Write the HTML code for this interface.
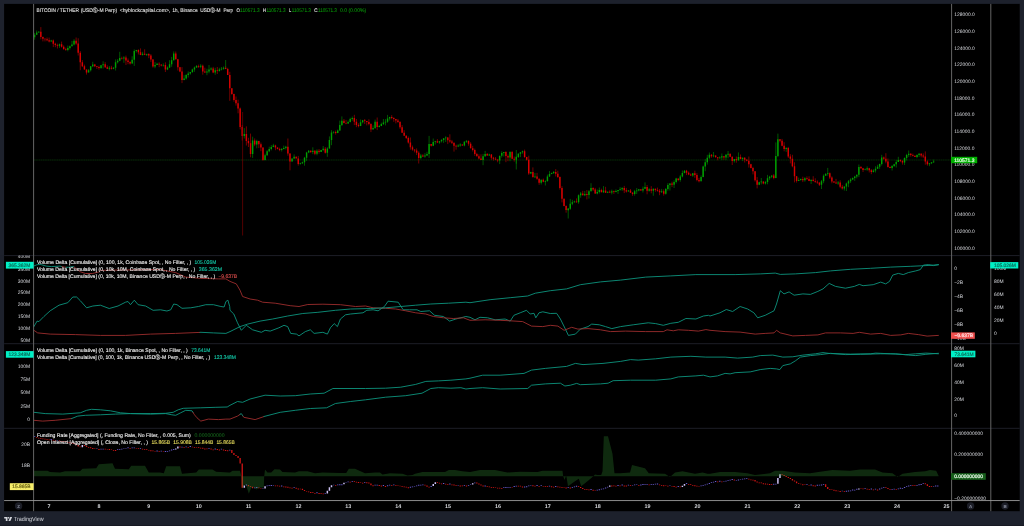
<!DOCTYPE html>
<html lang="en"><head><meta charset="utf-8"><title>BTCUSDT chart</title>
<style>html,body{margin:0;padding:0;background:#1e222d;overflow:hidden}svg{display:block;will-change:transform;opacity:.999}</style></head>
<body>
<svg width="1024" height="526" viewBox="0 0 1024 526" font-family="Liberation Sans, sans-serif" text-rendering="geometricPrecision">
<rect width="1024" height="526" fill="#1e222d"/>
<rect x="0" y="525.2" width="1024" height="0.8" fill="#171a22"/>
<rect x="4.1" y="3.9" width="1015.6" height="507.3" fill="#000"/>
<defs>
<clipPath id="cp1"><rect x="33.6" y="3.9" width="918.0" height="251.7"/></clipPath>
<clipPath id="cl2"><rect x="4.1" y="255.6" width="29.5" height="88.1"/></clipPath>
</defs>
<rect x="4.1" y="255.1" width="1015.6" height="1" fill="#1e2029"/>
<rect x="4.1" y="343.2" width="1015.6" height="1" fill="#1e2029"/>
<rect x="4.1" y="427.8" width="1015.6" height="1" fill="#1e2029"/>
<text x="954.2" y="16.3" font-size="4.95" fill="#dcdee3" text-anchor="start" font-weight="normal" >128000.0</text>
<text x="954.2" y="33.0" font-size="4.95" fill="#dcdee3" text-anchor="start" font-weight="normal" >126000.0</text>
<text x="954.2" y="49.6" font-size="4.95" fill="#dcdee3" text-anchor="start" font-weight="normal" >124000.0</text>
<text x="954.2" y="66.3" font-size="4.95" fill="#dcdee3" text-anchor="start" font-weight="normal" >122000.0</text>
<text x="954.2" y="82.9" font-size="4.95" fill="#dcdee3" text-anchor="start" font-weight="normal" >120000.0</text>
<text x="954.2" y="99.6" font-size="4.95" fill="#dcdee3" text-anchor="start" font-weight="normal" >118000.0</text>
<text x="954.2" y="116.3" font-size="4.95" fill="#dcdee3" text-anchor="start" font-weight="normal" >116000.0</text>
<text x="954.2" y="132.9" font-size="4.95" fill="#dcdee3" text-anchor="start" font-weight="normal" >114000.0</text>
<text x="954.2" y="149.6" font-size="4.95" fill="#dcdee3" text-anchor="start" font-weight="normal" >112000.0</text>
<text x="954.2" y="166.2" font-size="4.95" fill="#dcdee3" text-anchor="start" font-weight="normal" >110000.0</text>
<text x="954.2" y="182.9" font-size="4.95" fill="#dcdee3" text-anchor="start" font-weight="normal" >108000.0</text>
<text x="954.2" y="199.6" font-size="4.95" fill="#dcdee3" text-anchor="start" font-weight="normal" >106000.0</text>
<text x="954.2" y="216.2" font-size="4.95" fill="#dcdee3" text-anchor="start" font-weight="normal" >104000.0</text>
<text x="954.2" y="232.9" font-size="4.95" fill="#dcdee3" text-anchor="start" font-weight="normal" >102000.0</text>
<text x="954.2" y="249.5" font-size="4.95" fill="#dcdee3" text-anchor="start" font-weight="normal" >100000.0</text>
<text x="954.2" y="269.6" font-size="4.95" fill="#dcdee3" text-anchor="start" font-weight="normal" >0</text>
<text x="954.2" y="283.7" font-size="4.95" fill="#dcdee3" text-anchor="start" font-weight="normal" >−2B</text>
<text x="954.2" y="297.7" font-size="4.95" fill="#dcdee3" text-anchor="start" font-weight="normal" >−4B</text>
<text x="954.2" y="311.8" font-size="4.95" fill="#dcdee3" text-anchor="start" font-weight="normal" >−6B</text>
<text x="954.2" y="325.8" font-size="4.95" fill="#dcdee3" text-anchor="start" font-weight="normal" >−8B</text>
<text x="954.2" y="339.9" font-size="4.95" fill="#dcdee3" text-anchor="start" font-weight="normal" >−10B</text>
<text x="954.2" y="350.1" font-size="4.95" fill="#dcdee3" text-anchor="start" font-weight="normal" >80M</text>
<text x="954.2" y="367.0" font-size="4.95" fill="#dcdee3" text-anchor="start" font-weight="normal" >60M</text>
<text x="954.2" y="383.9" font-size="4.95" fill="#dcdee3" text-anchor="start" font-weight="normal" >40M</text>
<text x="954.2" y="400.5" font-size="4.95" fill="#dcdee3" text-anchor="start" font-weight="normal" >20M</text>
<text x="954.2" y="417.3" font-size="4.95" fill="#dcdee3" text-anchor="start" font-weight="normal" >0</text>
<text x="954.2" y="434.6" font-size="4.95" fill="#dcdee3" text-anchor="start" font-weight="normal" >0.400000000</text>
<text x="954.2" y="456.3" font-size="4.95" fill="#dcdee3" text-anchor="start" font-weight="normal" >0.200000000</text>
<text x="954.2" y="500.0" font-size="4.95" fill="#dcdee3" text-anchor="start" font-weight="normal" >−0.200000000</text>
<text x="993.9" y="270.0" font-size="4.95" fill="#dcdee3" text-anchor="start" font-weight="normal" >100M</text>
<text x="993.9" y="282.9" font-size="4.95" fill="#dcdee3" text-anchor="start" font-weight="normal" >80M</text>
<text x="993.9" y="296.0" font-size="4.95" fill="#dcdee3" text-anchor="start" font-weight="normal" >60M</text>
<text x="993.9" y="308.8" font-size="4.95" fill="#dcdee3" text-anchor="start" font-weight="normal" >40M</text>
<text x="993.9" y="321.6" font-size="4.95" fill="#dcdee3" text-anchor="start" font-weight="normal" >20M</text>
<text x="993.9" y="334.6" font-size="4.95" fill="#dcdee3" text-anchor="start" font-weight="normal" >0</text>
<g clip-path="url(#cl2)">
<text x="30.1" y="258.3" font-size="4.95" fill="#dcdee3" text-anchor="end" font-weight="normal" >400M</text>
<text x="30.1" y="270.8" font-size="4.95" fill="#dcdee3" text-anchor="end" font-weight="normal" >350M</text>
<text x="30.1" y="282.6" font-size="4.95" fill="#dcdee3" text-anchor="end" font-weight="normal" >300M</text>
<text x="30.1" y="294.4" font-size="4.95" fill="#dcdee3" text-anchor="end" font-weight="normal" >250M</text>
<text x="30.1" y="306.2" font-size="4.95" fill="#dcdee3" text-anchor="end" font-weight="normal" >200M</text>
<text x="30.1" y="318.0" font-size="4.95" fill="#dcdee3" text-anchor="end" font-weight="normal" >150M</text>
<text x="30.1" y="329.8" font-size="4.95" fill="#dcdee3" text-anchor="end" font-weight="normal" >100M</text>
<text x="30.1" y="341.6" font-size="4.95" fill="#dcdee3" text-anchor="end" font-weight="normal" >50M</text>
</g>
<text x="30.1" y="355.0" font-size="4.95" fill="#dcdee3" text-anchor="end" font-weight="normal" >125M</text>
<text x="30.1" y="368.1" font-size="4.95" fill="#dcdee3" text-anchor="end" font-weight="normal" >100M</text>
<text x="30.1" y="381.4" font-size="4.95" fill="#dcdee3" text-anchor="end" font-weight="normal" >75M</text>
<text x="30.1" y="394.3" font-size="4.95" fill="#dcdee3" text-anchor="end" font-weight="normal" >50M</text>
<text x="30.1" y="407.9" font-size="4.95" fill="#dcdee3" text-anchor="end" font-weight="normal" >25M</text>
<text x="30.1" y="420.8" font-size="4.95" fill="#dcdee3" text-anchor="end" font-weight="normal" >0</text>
<text x="30.1" y="446.4" font-size="4.95" fill="#dcdee3" text-anchor="end" font-weight="normal" >20B</text>
<text x="30.1" y="466.9" font-size="4.95" fill="#dcdee3" text-anchor="end" font-weight="normal" >18B</text>
<g clip-path="url(#cp1)">
<line x1="33.6" y1="160" x2="951.6" y2="160" stroke="#0a360a" stroke-width="0.8" stroke-dasharray="1.5,0.3"/>
<path d="M40.83,27.1V39.3M42.91,36.5V41.4M44.98,38.3V41.4M47.06,37.5V41.2M49.13,37.6V42.4M53.29,39.5V47.1M55.36,42.7V47.2M57.44,43.7V48.5M61.59,41.6V47.6M63.67,45.4V49.4M65.74,47.7V50.8M76.13,37.5V44.8M78.20,38.3V55.5M80.28,51.1V70.2M82.35,60.1V67.1M84.43,64.6V69.6M86.51,69.4V74.6M94.81,63.9V67.1M96.89,66.0V69.0M98.96,65.7V69.6M105.19,62.2V68.0M107.27,65.3V69.1M111.42,65.8V69.6M121.80,56.7V59.5M125.96,55.6V65.0M128.03,58.5V64.2M130.11,61.2V64.6M138.41,49.3V54.5M140.49,48.4V55.2M144.64,49.3V55.1M148.79,53.2V58.2M150.87,54.1V61.9M152.95,59.1V67.7M159.17,62.3V67.2M161.25,64.5V66.4M165.40,62.3V72.0M175.78,51.5V59.5M177.86,58.9V70.5M179.94,66.9V72.2M182.01,67.1V83.1M198.62,64.6V67.9M202.78,64.6V74.7M204.85,67.7V72.9M213.16,66.9V73.2M217.31,67.0V74.0M225.61,66.3V69.1M227.69,67.8V75.0M229.77,71.8V100.8M231.84,88.2V94.8M233.92,93.7V101.7M236.00,96.5V105.6M238.07,99.7V113.3M240.15,107.5V129.4M242.22,125.1V140.5M246.38,126.4V145.5M248.45,137.8V147.0M250.53,133.6V157.3M254.68,138.4V146.2M258.83,140.7V148.1M260.91,142.5V151.2M262.99,147.4V160.8M275.44,144.7V150.2M277.52,147.3V149.4M279.60,147.7V151.2M287.90,138.5V155.7M289.98,153.3V170.3M296.21,156.5V158.4M298.28,155.9V165.6M310.74,150.4V153.0M314.89,150.1V155.2M319.05,149.0V153.7M325.27,147.0V153.6M335.66,130.5V134.6M343.96,119.0V123.4M346.04,119.9V124.3M354.34,114.8V125.1M356.42,119.0V127.2M358.50,123.3V127.3M364.72,119.0V124.0M366.80,121.0V125.4M368.88,119.3V125.3M370.95,123.2V132.1M377.18,117.5V130.1M391.72,115.1V119.3M393.79,117.3V121.8M395.87,118.9V123.4M397.94,118.9V122.8M400.02,121.1V128.8M402.10,125.1V132.7M404.17,130.2V135.7M406.25,135.3V139.0M408.33,136.5V143.6M410.40,137.5V149.7M412.48,145.5V150.7M414.55,149.5V152.4M416.63,148.4V155.1M418.71,151.3V163.5M422.86,154.2V157.0M431.16,144.1V146.6M437.39,139.1V143.1M447.77,137.2V144.1M449.85,134.3V142.8M451.93,139.9V144.0M454.00,142.6V151.6M456.08,144.6V149.7M462.31,144.4V145.7M468.54,140.7V145.7M470.61,142.2V148.4M472.69,145.8V151.5M474.77,148.6V155.8M476.84,152.8V156.4M478.92,154.3V159.4M480.99,154.3V160.0M487.22,153.0V155.8M491.38,154.0V159.7M493.45,156.8V160.6M495.53,157.1V160.1M497.60,159.5V162.3M505.91,151.2V162.2M507.99,154.5V161.2M512.14,150.8V159.1M514.21,156.5V161.6M524.60,149.6V157.8M526.67,156.8V160.6M528.75,155.7V174.9M532.90,167.4V177.2M537.05,172.9V179.7M539.13,178.5V184.8M543.28,178.5V182.3M555.74,169.1V176.5M557.82,170.7V177.9M559.89,176.4V189.6M561.97,186.2V202.4M564.04,198.5V206.3M566.12,205.3V212.7M576.50,198.4V202.7M582.73,190.8V195.4M586.88,190.0V199.4M593.11,187.3V191.0M595.19,187.9V193.9M601.42,188.7V192.3M605.57,186.8V192.9M609.72,190.3V193.1M613.87,190.5V193.9M624.25,185.9V193.1M626.33,187.9V192.6M630.48,189.0V192.8M632.56,192.0V195.8M640.86,189.1V190.9M647.09,185.0V194.3M651.25,186.2V193.3M655.40,188.6V191.7M657.47,187.6V191.7M659.55,189.1V195.2M663.70,189.4V195.6M672.01,181.6V187.1M678.24,178.6V181.2M686.54,169.9V175.1M688.62,171.5V175.2M690.69,173.4V175.8M694.85,170.7V177.8M696.92,173.1V181.3M699.00,177.9V182.4M711.46,154.1V157.7M715.61,155.3V157.5M717.69,157.2V160.3M723.91,156.0V159.9M730.14,153.6V157.1M732.22,156.5V165.0M736.37,156.5V162.7M740.52,154.5V159.3M744.68,157.2V162.5M746.75,159.0V161.3M748.83,156.5V167.6M750.91,163.8V168.4M752.98,166.8V174.4M755.06,171.2V181.6M757.13,177.1V188.4M763.36,181.3V184.3M773.74,174.1V179.3M779.97,139.1V142.4M782.05,138.9V146.3M784.13,142.2V151.3M788.28,146.9V158.0M790.35,154.2V163.4M792.43,154.8V167.3M794.51,162.3V182.4M796.58,176.0V182.6M802.81,176.7V182.1M806.96,176.4V180.0M809.04,176.3V181.2M813.19,176.2V181.5M815.27,178.3V182.8M817.35,180.4V183.9M819.42,182.5V186.0M829.80,172.4V179.0M831.88,176.3V183.3M833.96,181.1V183.0M836.03,178.9V183.7M840.18,180.3V188.2M842.26,184.9V189.6M860.95,166.0V168.8M863.02,167.9V172.0M869.25,167.8V172.5M871.33,169.0V174.2M883.79,156.5V159.8M885.86,153.2V163.3M887.94,158.5V167.6M890.01,166.3V168.2M900.40,159.3V162.1M902.47,160.1V164.6M910.78,153.2V156.7M912.85,153.6V156.4M914.93,155.5V157.0M921.16,153.2V157.4M923.23,153.4V158.1M925.31,151.4V164.7M927.39,160.3V165.7" stroke="#d80000" stroke-width="0.55" fill="none"/>
<path d="M40.83,31.8V36.9M42.91,36.9V38.7M44.98,38.7V39.3M47.06,39.3V40.2M49.13,40.2V41.4M53.29,40.4V43.7M55.36,43.7V45.0M57.44,45.0V45.8M61.59,44.3V46.7M63.67,46.7V49.3M65.74,49.3V50.1M76.13,40.8V43.4M78.20,43.4V52.7M80.28,52.7V62.3M82.35,62.3V66.3M84.43,66.3V69.5M86.51,69.5V72.4M94.81,64.6V66.2M96.89,66.2V67.0M98.96,67.0V67.9M105.19,64.3V67.2M107.27,67.2V68.8M111.42,67.8V68.7M121.80,57.9V58.6M125.96,57.5V60.4M128.03,60.4V62.0M130.11,62.0V63.5M138.41,50.0V52.2M140.49,52.2V55.0M144.64,53.7V54.8M148.79,53.9V55.6M150.87,55.6V59.5M152.95,59.5V66.4M159.17,63.8V64.6M161.25,64.6V65.6M165.40,65.0V69.6M175.78,53.5V59.2M177.86,59.2V67.3M179.94,67.3V71.4M182.01,71.4V79.9M198.62,66.1V66.8M202.78,65.8V71.6M204.85,71.6V72.4M213.16,68.5V72.4M217.31,70.3V71.0M225.61,67.8V68.9M227.69,68.9V74.9M229.77,74.9V88.3M231.84,88.3V94.0M233.92,94.0V100.1M236.00,100.1V103.3M238.07,103.3V108.4M240.15,108.4V126.9M242.22,126.9V136.1M246.38,134.1V141.1M248.45,141.1V143.3M250.53,143.3V154.0M254.68,140.5V144.5M258.83,140.9V144.3M260.91,144.3V147.4M262.99,147.4V160.0M275.44,145.5V147.5M277.52,147.5V149.1M279.60,149.1V150.0M287.90,146.8V153.6M289.98,153.6V161.4M296.21,156.7V158.4M298.28,158.4V164.1M310.74,150.8V152.1M314.89,150.7V153.7M319.05,150.7V151.9M325.27,148.7V152.7M335.66,131.9V133.1M343.96,120.7V122.9M346.04,122.9V123.5M354.34,117.9V121.7M356.42,121.7V124.9M358.50,124.9V126.0M364.72,120.3V121.0M366.80,121.0V122.1M368.88,122.1V123.9M370.95,123.9V129.4M377.18,121.8V126.9M391.72,117.0V118.1M393.79,118.1V119.0M395.87,119.0V120.6M397.94,120.6V122.1M400.02,122.1V127.2M402.10,127.2V132.7M404.17,132.7V135.7M406.25,135.7V138.1M408.33,138.1V142.6M410.40,142.6V147.3M412.48,147.3V149.6M414.55,149.6V150.4M416.63,150.4V152.7M418.71,152.7V158.1M422.86,155.5V156.4M431.16,144.1V145.7M437.39,141.3V142.5M447.77,137.5V140.2M449.85,140.2V141.4M451.93,141.4V142.7M454.00,142.7V145.8M456.08,145.8V146.5M462.31,144.6V145.5M468.54,140.8V143.8M470.61,143.8V148.3M472.69,148.3V150.1M474.77,150.1V153.9M476.84,153.9V156.2M478.92,156.2V158.6M480.99,158.6V159.9M487.22,153.9V155.5M491.38,154.5V157.7M493.45,157.7V158.8M495.53,158.8V159.6M497.60,159.6V160.4M505.91,152.1V156.0M507.99,156.0V157.4M512.14,151.9V158.7M514.21,158.7V159.8M524.60,151.3V156.9M526.67,156.9V159.8M528.75,159.8V173.4M532.90,171.9V177.2M537.05,176.4V178.8M539.13,178.8V182.8M543.28,179.7V181.8M555.74,171.9V173.7M557.82,173.7V177.0M559.89,177.0V188.0M561.97,188.0V198.7M564.04,198.7V206.0M566.12,206.0V210.0M576.50,201.4V202.3M582.73,193.6V195.2M586.88,193.9V194.9M593.11,188.1V189.4M595.19,189.4V193.5M601.42,189.9V192.3M605.57,190.5V192.7M609.72,191.8V192.4M613.87,191.2V192.1M624.25,188.0V190.2M626.33,190.2V191.4M630.48,190.5V192.7M632.56,192.7V194.1M640.86,189.2V190.5M647.09,187.1V190.7M651.25,189.2V190.7M655.40,188.8V190.0M657.47,190.0V190.7M659.55,190.7V192.3M663.70,191.3V193.7M672.01,183.6V184.8M678.24,178.6V179.9M686.54,170.8V172.8M688.62,172.8V174.4M690.69,174.4V175.6M694.85,173.2V174.9M696.92,174.9V180.0M699.00,180.0V181.2M711.46,154.8V156.2M715.61,155.4V157.3M717.69,157.3V158.3M723.91,156.2V157.6M730.14,153.8V156.8M732.22,156.8V160.9M736.37,159.1V160.3M740.52,156.9V158.9M744.68,157.8V159.8M746.75,159.8V160.7M748.83,160.7V164.2M750.91,164.2V168.0M752.98,168.0V171.3M755.06,171.3V180.3M757.13,180.3V184.7M763.36,181.5V183.4M773.74,175.4V177.9M779.97,139.3V140.7M782.05,140.7V145.8M784.13,145.8V149.0M788.28,147.9V156.6M790.35,156.6V158.7M792.43,158.7V166.2M794.51,166.2V176.2M796.58,176.2V181.0M802.81,179.0V180.2M806.96,178.3V179.1M809.04,179.1V180.9M813.19,179.8V181.0M815.27,181.0V181.7M817.35,181.7V182.6M819.42,182.6V184.7M829.80,173.3V177.6M831.88,177.6V181.6M833.96,181.6V182.4M836.03,182.4V183.5M840.18,182.4V186.7M842.26,186.7V188.5M860.95,167.0V168.3M863.02,168.3V170.1M869.25,168.3V170.2M871.33,170.2V172.1M883.79,157.6V158.8M885.86,158.8V161.6M887.94,161.6V166.9M890.01,166.9V167.9M900.40,160.1V161.0M902.47,161.0V162.6M910.78,153.7V155.0M912.85,155.0V155.8M914.93,155.8V157.0M921.16,153.7V155.5M923.23,155.5V156.4M925.31,156.4V161.5M927.39,161.5V164.3" stroke="#d80000" stroke-width="1.45" fill="none"/>
<path d="M34.60,32.9V39.7M36.68,30.5V35.1M38.75,31.2V32.7M51.21,39.8V41.6M59.52,43.6V47.9M67.82,45.6V51.3M69.90,45.5V49.5M71.97,40.9V46.3M74.05,39.2V45.4M88.58,69.0V72.4M90.66,66.0V71.5M92.74,61.8V67.1M101.04,64.9V68.9M103.12,61.3V68.5M109.35,66.0V70.4M113.50,67.1V69.2M115.57,59.4V70.5M117.65,59.0V63.5M119.73,51.8V61.2M123.88,56.2V62.8M132.18,56.3V63.6M134.26,49.4V65.9M136.34,49.9V52.6M142.56,51.8V55.5M146.72,53.7V56.0M155.02,62.1V68.2M157.10,62.8V65.0M163.33,63.4V66.6M167.48,66.4V70.1M169.56,60.2V68.0M171.63,56.9V66.8M173.71,51.4V60.5M184.09,75.2V80.3M186.17,74.2V79.6M188.24,71.4V77.5M190.32,72.0V74.7M192.39,68.7V72.9M194.47,66.6V71.8M196.55,65.0V68.0M200.70,64.2V68.2M206.93,68.7V75.2M209.00,65.0V73.3M211.08,67.3V70.5M215.23,67.8V74.8M219.39,67.8V71.6M221.46,67.0V70.4M223.54,66.5V69.7M244.30,128.1V138.5M252.61,136.7V157.9M256.76,139.7V148.3M265.06,153.7V160.5M267.14,150.1V155.8M269.22,146.7V152.2M271.29,145.1V150.4M273.37,143.8V147.2M281.67,148.0V151.5M283.75,145.6V149.3M285.83,145.8V149.5M292.05,158.5V161.5M294.13,154.4V159.0M300.36,162.7V164.6M302.44,161.6V164.0M304.51,156.9V165.7M306.59,151.8V160.9M308.66,150.0V153.2M312.82,147.3V154.1M316.97,149.3V155.3M321.12,149.8V151.9M323.20,146.0V151.2M327.35,147.2V156.8M329.43,136.4V148.5M331.50,130.2V145.2M333.58,131.1V133.6M337.73,129.5V133.2M339.81,120.6V130.8M341.88,116.4V126.0M348.11,120.5V124.0M350.19,117.7V122.4M352.27,116.5V120.8M360.57,119.5V126.1M362.65,119.9V123.4M373.03,125.4V129.4M375.11,119.6V129.0M379.26,124.9V127.4M381.33,122.6V126.2M383.41,119.0V125.0M385.49,119.1V125.4M387.56,114.9V122.8M389.64,116.8V120.5M420.78,153.9V159.4M424.94,153.1V157.7M427.01,151.8V156.1M429.09,135.9V157.9M433.24,138.5V146.2M435.32,140.9V144.5M439.47,141.0V143.8M441.55,139.1V142.5M443.62,138.2V142.9M445.70,136.3V142.0M458.16,144.2V147.1M460.23,143.2V146.8M464.38,141.2V146.3M466.46,140.3V142.9M483.07,153.9V165.2M485.15,150.9V156.8M489.30,153.7V155.7M499.68,155.8V164.1M501.76,151.2V157.6M503.83,152.0V156.6M510.06,151.2V161.2M516.29,156.2V163.7M518.37,153.2V158.0M520.44,152.0V157.1M522.52,150.6V153.7M530.82,171.8V174.2M534.98,173.0V178.0M541.21,179.5V184.5M545.36,180.3V185.5M547.43,174.6V181.8M549.51,171.1V177.0M551.59,172.6V174.2M553.66,171.0V174.0M568.20,208.2V210.8M570.27,198.9V209.9M572.35,199.8V205.2M574.42,200.7V202.6M578.58,194.4V203.8M580.65,191.9V197.7M584.81,191.0V196.2M588.96,190.0V198.6M591.03,183.2V191.4M597.26,189.5V194.4M599.34,187.5V193.5M603.49,186.1V192.9M607.64,191.5V193.1M611.80,189.6V194.4M615.95,189.4V192.3M618.03,190.1V193.9M620.10,187.1V190.7M622.18,187.2V190.9M628.41,190.1V191.5M634.64,189.9V195.7M636.71,188.0V194.0M638.79,189.1V191.3M642.94,186.5V192.5M645.02,182.4V189.0M649.17,188.1V191.6M653.32,188.6V195.8M661.63,188.9V192.8M665.78,188.0V194.6M667.86,183.2V190.7M669.93,183.1V190.5M674.08,180.3V188.0M676.16,177.8V183.5M680.31,174.9V181.7M682.39,170.5V177.4M684.47,170.1V173.3M692.77,173.2V176.8M701.08,175.4V181.3M703.15,165.6V177.3M705.23,159.1V171.2M707.30,154.8V164.6M709.38,152.5V159.1M713.53,152.0V157.3M719.76,156.3V158.6M721.84,153.5V160.2M725.99,154.1V160.2M728.07,151.0V158.3M734.30,159.1V162.6M738.45,152.4V160.8M742.60,157.5V161.1M759.21,181.7V185.2M761.29,178.0V184.4M765.44,180.9V184.5M767.52,174.9V184.3M769.59,175.8V180.1M771.67,175.3V178.2M775.82,142.4V178.3M777.90,133.6V157.2M786.20,147.2V151.9M798.66,177.6V181.1M800.74,178.6V180.6M804.89,177.2V181.7M811.12,179.7V183.9M821.50,180.0V189.0M823.57,174.4V183.2M825.65,173.0V175.8M827.73,167.9V175.7M838.11,181.0V184.9M844.34,186.4V190.6M846.41,182.6V191.0M848.49,180.0V187.2M850.57,178.2V182.9M852.64,177.4V180.1M854.72,175.8V180.9M856.79,174.6V178.4M858.87,164.5V177.1M865.10,168.5V170.3M867.18,166.4V170.8M873.40,169.2V172.5M875.48,166.3V172.5M877.56,164.8V169.0M879.63,163.6V168.9M881.71,154.8V165.5M892.09,165.0V170.5M894.17,163.8V167.0M896.24,160.1V167.5M898.32,156.8V162.0M904.55,157.4V165.0M906.62,153.8V160.5M908.70,150.5V156.9M917.01,154.3V158.2M919.08,152.9V157.0M929.46,163.1V166.2M931.54,162.2V164.1M933.62,159.6V163.0" stroke="#00a000" stroke-width="0.55" fill="none"/>
<path d="M34.60,34.7V37.2M36.68,32.4V34.7M38.75,31.8V32.4M51.21,40.4V41.4M59.52,44.3V45.8M67.82,47.9V50.1M69.90,46.2V47.9M71.97,44.4V46.2M74.05,40.8V44.4M88.58,70.2V72.4M90.66,66.2V70.2M92.74,64.6V66.2M101.04,65.3V67.9M103.12,64.3V65.3M109.35,67.8V68.8M113.50,67.7V68.7M115.57,62.3V67.7M117.65,60.7V62.3M119.73,57.9V60.7M123.88,57.5V58.6M132.18,59.8V63.5M134.26,50.9V59.8M136.34,50.0V50.9M142.56,53.7V55.0M146.72,53.9V54.8M155.02,64.9V66.4M157.10,63.8V64.9M163.33,65.0V65.6M167.48,67.5V69.6M169.56,64.3V67.5M171.63,60.3V64.3M173.71,53.5V60.3M184.09,78.6V79.9M186.17,75.1V78.6M188.24,73.6V75.1M190.32,72.1V73.6M192.39,69.5V72.1M194.47,67.6V69.5M196.55,66.1V67.6M200.70,65.8V66.8M206.93,71.6V72.4M209.00,69.5V71.6M211.08,68.5V69.5M215.23,70.3V72.4M219.39,69.6V71.0M221.46,68.8V69.6M223.54,67.8V68.8M244.30,134.1V136.1M252.61,140.5V154.0M256.76,140.9V144.5M265.06,155.3V160.0M267.14,151.2V155.3M269.22,148.9V151.2M271.29,147.0V148.9M273.37,145.5V147.0M281.67,148.9V150.0M283.75,147.9V148.9M285.83,146.8V147.9M292.05,158.6V161.4M294.13,156.7V158.6M300.36,163.2V164.1M302.44,162.2V163.2M304.51,157.7V162.2M306.59,152.4V157.7M308.66,150.8V152.4M312.82,150.7V152.1M316.97,150.7V153.7M321.12,150.0V151.9M323.20,148.7V150.0M327.35,148.4V152.7M329.43,139.9V148.4M331.50,132.5V139.9M333.58,131.9V132.5M337.73,130.5V133.1M339.81,125.1V130.5M341.88,120.7V125.1M348.11,121.9V123.5M350.19,119.1V121.9M352.27,117.9V119.1M360.57,122.3V126.0M362.65,120.3V122.3M373.03,127.9V129.4M375.11,121.8V127.9M379.26,126.1V126.9M381.33,123.9V126.1M383.41,122.6V123.9M385.49,121.7V122.6M387.56,118.4V121.7M389.64,117.0V118.4M420.78,155.5V158.1M424.94,155.6V156.4M427.01,154.0V155.6M429.09,144.1V154.0M433.24,142.1V145.7M435.32,141.3V142.1M439.47,141.3V142.5M441.55,140.1V141.3M443.62,138.2V140.1M445.70,137.5V138.2M458.16,145.4V146.5M460.23,144.6V145.4M464.38,141.7V145.5M466.46,140.8V141.7M483.07,156.2V159.9M485.15,153.9V156.2M489.30,154.5V155.5M499.68,155.8V160.4M501.76,153.0V155.8M503.83,152.1V153.0M510.06,151.9V157.4M516.29,156.9V159.8M518.37,153.7V156.9M520.44,152.3V153.7M522.52,151.3V152.3M530.82,171.9V173.4M534.98,176.4V177.2M541.21,179.7V182.8M545.36,181.0V181.8M547.43,176.5V181.0M549.51,174.1V176.5M551.59,173.1V174.1M553.66,171.9V173.1M568.20,208.7V210.0M570.27,203.7V208.7M572.35,202.2V203.7M574.42,201.4V202.2M578.58,195.2V202.3M580.65,193.6V195.2M584.81,193.9V195.2M588.96,191.3V194.9M591.03,188.1V191.3M597.26,192.0V193.5M599.34,189.9V192.0M603.49,190.5V192.3M607.64,191.8V192.7M611.80,191.2V192.4M615.95,191.1V192.1M618.03,190.1V191.1M620.10,189.3V190.1M622.18,188.0V189.3M628.41,190.5V191.4M634.64,191.2V194.1M636.71,190.6V191.2M638.79,189.2V190.6M642.94,188.7V190.5M645.02,187.1V188.7M649.17,189.2V190.7M653.32,188.8V190.7M661.63,191.3V192.3M665.78,188.9V193.7M667.86,184.9V188.9M669.93,183.6V184.9M674.08,181.9V184.8M676.16,178.6V181.9M680.31,176.6V179.9M682.39,173.1V176.6M684.47,170.8V173.1M692.77,173.2V175.6M701.08,176.9V181.2M703.15,166.5V176.9M705.23,162.2V166.5M707.30,157.7V162.2M709.38,154.8V157.7M713.53,155.4V156.2M719.76,157.5V158.3M721.84,156.2V157.5M725.99,154.8V157.6M728.07,153.8V154.8M734.30,159.1V160.9M738.45,156.9V160.3M742.60,157.8V158.9M759.21,182.3V184.7M761.29,181.5V182.3M765.44,182.0V183.4M767.52,178.3V182.0M769.59,176.7V178.3M771.67,175.4V176.7M775.82,156.0V177.9M777.90,139.3V156.0M786.20,147.9V149.0M798.66,179.9V181.0M800.74,179.0V179.9M804.89,178.3V180.2M811.12,179.8V180.9M821.50,181.3V184.7M823.57,175.7V181.3M825.65,174.1V175.7M827.73,173.3V174.1M838.11,182.4V183.5M844.34,186.4V188.5M846.41,183.4V186.4M848.49,181.3V183.4M850.57,179.5V181.3M852.64,178.0V179.5M854.72,176.4V178.0M856.79,174.7V176.4M858.87,167.0V174.7M865.10,169.4V170.1M867.18,168.3V169.4M873.40,170.5V172.1M875.48,168.8V170.5M877.56,166.7V168.8M879.63,164.0V166.7M881.71,157.6V164.0M892.09,166.0V167.9M894.17,164.3V166.0M896.24,161.9V164.3M898.32,160.1V161.9M904.55,158.1V162.6M906.62,154.9V158.1M908.70,153.7V154.9M917.01,155.1V157.0M919.08,153.7V155.1M929.46,163.2V164.3M931.54,162.3V163.2M933.62,161.4V162.3" stroke="#00a000" stroke-width="1.45" fill="none"/>
<path d="M225.63,60V67.5M568.22,208V218.5M516.29,150V169.5" stroke="#00a000" stroke-width="0.55" fill="none"/>
<line x1="242.6" y1="112" x2="242.6" y2="235.5" stroke="#8c0000" stroke-width="0.6"/>
</g>
<polyline points="33.9,326.6 37.1,321.1 38.9,321.6 43.9,316.5 50.2,310.8 59.0,305.2 67.8,302.7 72.8,297.0 76.6,297.0 80.3,300.7 86.6,307.8 92.9,306.0 100.4,305.2 109.2,308.5 118.0,306.0 125.5,302.2 128.0,301.5 130.5,304.7 134.3,300.2 138.1,304.7 145.6,306.0 153.1,310.3 160.6,309.8 166.9,311.0 170.7,309.8 173.7,304.0 177.0,304.7 182.0,308.3 190.8,307.8 198.3,306.5 205.8,304.7 213.4,304.7 220.9,306.5 224.1,307.0 225.9,301.5 227.9,300.2 229.7,306.5 230.0,310.3 233.8,314.0 237.5,322.8 241.3,330.3 246.3,325.3 252.6,329.8 261.4,332.3 265.1,330.3 270.2,331.1 278.9,327.8 284.0,325.3 287.7,326.6 290.7,333.4 296.5,334.1 299.0,335.9 305.3,331.6 310.3,329.8 314.1,333.4 322.9,332.3 327.4,334.1 330.4,327.8 334.2,323.6 337.4,326.6 340.4,319.0 345.5,314.8 350.5,314.0 363.0,312.8 366.8,310.3 373.1,309.8 378.1,310.8 384.4,306.5 388.1,301.2 398.2,302.2 403.2,309.8 409.5,309.8 417.0,309.8 420.8,311.5 429.5,310.8 434.6,315.3 443.4,316.5 449.6,321.1 455.9,319.0 465.9,316.5 470.0,317.3 475.0,319.8 480.0,317.3 487.6,317.8 495.1,319.8 505.1,319.0 510.2,321.1 513.9,315.3 520.2,312.8 526.5,310.3 530.2,314.0 534.0,313.3 535.8,317.8 539.0,312.8 542.8,311.8 550.3,313.5 556.6,313.3 560.4,319.0 565.4,329.1 568.4,335.4 575.4,334.1 580.4,329.1 588.0,326.6 591.7,324.1 599.3,324.8 605.5,326.6 611.8,328.6 620.6,326.6 633.2,324.8 648.2,322.8 655.7,323.6 663.3,325.3 670.8,323.3 678.3,322.3 685.9,318.5 695.9,319.0 703.4,316.0 708.5,315.3 710.0,316.0 720.0,312.8 726.3,309.5 732.6,311.5 740.1,306.5 747.7,309.0 753.9,312.8 757.7,317.8 765.2,315.3 774.0,310.8 776.5,304.0 780.3,290.7 784.0,293.9 789.1,291.9 794.1,295.2 802.9,293.9 810.4,294.4 817.9,291.4 823.0,288.9 829.2,283.4 835.5,286.4 845.5,288.2 854.3,286.4 859.3,284.4 863.1,285.7 873.2,284.7 880.7,282.1 885.7,283.9 889.5,281.4 892.7,275.1 898.3,273.4 903.3,274.6 908.3,272.6 915.8,270.9 920.3,269.6 923.4,265.1 928.4,264.6 933.4,265.6 938.4,264.6" fill="none" stroke="#0e957f" stroke-width="0.9" stroke-linejoin="round" stroke-linecap="round" />
<polyline points="33.6,266.1 36.8,264.8 40.2,264.4 46.2,266.1 51.3,266.6 59.9,266.1 62.0,266.6" fill="none" stroke="#0e957f" stroke-width="0.9" stroke-linejoin="round" stroke-linecap="round" />
<polyline points="62.0,266.6 65.0,267.3 66.0,267.3" fill="none" stroke="#9e2f2f" stroke-width="0.9" stroke-linejoin="round" stroke-linecap="round" />
<polyline points="66.0,267.3 68.4,267.3 73.6,266.5 74.2,267.0" fill="none" stroke="#0e957f" stroke-width="0.9" stroke-linejoin="round" stroke-linecap="round" />
<polyline points="74.2,267.0 76.1,268.7 80.4,271.8 85.5,273.5 92.4,273.5 98.4,272.1 100.4,270.4 113.0,270.1 140.6,269.8 160.6,269.6 175.7,272.6 185.7,277.1 200.8,278.4 218.4,278.9 225.9,278.9 230.0,281.4 236.3,283.9 240.0,290.2 242.6,296.5 250.1,299.0 257.6,300.2 262.6,302.2 275.2,303.2 290.2,305.7 299.0,306.5 307.8,304.5 322.9,304.2 340.4,304.7 355.5,306.5 365.5,306.0 373.1,307.8 385.6,308.3 395.7,309.0 405.7,310.8 415.7,312.8 425.8,314.0 433.3,316.5 443.4,317.8 453.4,318.5 463.4,317.8 470.0,320.3 485.1,319.8 500.1,320.3 510.2,320.8 522.7,321.6 531.5,326.1 542.8,326.6 550.3,325.3 557.9,326.1 564.1,330.3 571.7,327.3 577.9,329.1 588.0,328.6 600.5,329.8 610.6,331.6 625.6,331.1 645.7,331.6 663.3,331.6 667.0,329.8 673.3,330.8 678.3,329.8 688.4,330.3 698.4,331.1 705.9,329.6 710.0,330.3 725.1,331.6 740.1,332.1 755.2,334.1 765.2,333.4 774.0,332.9 776.5,330.3 780.3,332.9 792.8,335.9 805.4,335.4 817.9,334.9 825.5,332.9 840.5,332.9 853.1,333.4 859.3,332.3 870.6,334.1 880.7,333.4 890.7,335.4 900.8,334.9 908.3,333.4 918.3,334.6 927.1,336.1 938.4,335.4" fill="none" stroke="#9e2f2f" stroke-width="0.9" stroke-linejoin="round" stroke-linecap="round" />
<polyline points="33.9,330.3 37.7,332.9 50.2,334.1 75.3,334.6 100.4,335.4 125.5,335.4 150.6,334.1 175.7,333.4 200.0,332.4" fill="none" stroke="#9e2f2f" stroke-width="0.9" stroke-linejoin="round" stroke-linecap="round" />
<polyline points="200.0,332.4 200.8,332.3 213.4,332.9 225.9,333.4 230.0,331.6 240.0,326.6 247.6,324.1 260.1,321.1 272.7,319.0 287.7,316.0 302.8,313.5 317.9,312.3 335.4,310.3 350.5,309.0 370.6,308.5 385.6,307.8 400.7,306.5 415.7,305.2 430.8,304.0 448.4,303.2 465.9,302.2 470.0,302.7 490.1,299.7 510.2,297.7 527.7,296.0 535.3,293.2 550.3,290.7 566.6,288.9 580.4,284.7 600.5,281.9 620.6,280.1 645.7,277.1 670.8,275.9 695.9,274.6 710.0,274.6 735.1,274.6 760.2,273.9 775.3,273.1 780.3,274.4 795.3,273.9 815.4,272.6 830.5,270.9 850.6,269.3 870.6,268.3 890.7,267.1 910.8,266.3 925.9,265.6 938.4,264.8" fill="none" stroke="#0e957f" stroke-width="0.9" stroke-linejoin="round" stroke-linecap="round" />
<polyline points="33.9,412.3 45.2,413.6 62.8,414.1 80.3,412.8 86.6,410.3 91.6,409.3 100.4,409.8 110.4,410.8 120.5,412.8 130.5,413.6 150.6,413.6 165.7,413.3 173.2,412.3 178.2,409.8 183.2,408.3 200.8,407.8 215.9,407.3 227.2,407.0 230.0,405.3 237.5,401.5 242.6,402.3 250.1,399.0 265.1,395.2 280.2,396.0 295.3,395.7 310.3,394.0 324.1,393.2 332.9,388.5 348.0,388.5 365.5,388.5 385.6,388.2 400.7,387.2 415.7,384.4 425.8,381.4 438.3,380.9 450.9,380.2 465.9,378.9 470.0,378.2 482.6,375.2 500.1,375.2 524.0,373.4 531.5,370.1 545.3,368.4 566.6,366.4 575.4,363.4 583.0,364.6 603.0,363.4 620.6,361.4 630.6,359.6 638.2,360.1 655.7,358.8 670.8,357.1 690.9,356.3 705.9,357.1 710.0,357.1 725.1,357.1 737.6,358.1 752.7,357.1 760.2,355.6 772.8,355.1 782.8,357.1 792.8,356.8 802.9,355.1 815.4,353.8 823.0,352.6 830.5,353.6 850.6,354.1 870.6,353.8 875.7,353.1 890.7,353.8 905.8,354.6 915.8,353.8 925.9,353.1 938.4,353.8" fill="none" stroke="#0e957f" stroke-width="0.9" stroke-linejoin="round" stroke-linecap="round" />
<polyline points="33.9,420.3 42.7,421.1 55.2,420.3 71.5,418.6" fill="none" stroke="#9e2f2f" stroke-width="0.9" stroke-linejoin="round" stroke-linecap="round" />
<polyline points="71.5,418.6 71.5,418.6 77.8,416.1 85.3,415.3 100.4,414.8 115.5,414.1 130.5,413.6 150.6,414.1 165.7,413.6 171.9,414.8 175.7,415.3 180.7,412.8 185.7,410.3 192.0,410.8 193.0,412.4" fill="none" stroke="#0e957f" stroke-width="0.9" stroke-linejoin="round" stroke-linecap="round" />
<polyline points="193.0,412.4 194.5,414.8 197.0,417.8 200.8,421.1 208.3,419.1 218.4,419.6 225.9,419.1 230.0,419.1 237.5,416.1 240.0,414.4" fill="none" stroke="#9e2f2f" stroke-width="0.9" stroke-linejoin="round" stroke-linecap="round" />
<polyline points="240.0,414.4 241.3,413.6 243.0,416.1" fill="none" stroke="#0e957f" stroke-width="0.9" stroke-linejoin="round" stroke-linecap="round" />
<polyline points="243.0,416.1 243.8,417.3 255.1,419.6 263.9,416.6 264.0,416.5" fill="none" stroke="#9e2f2f" stroke-width="0.9" stroke-linejoin="round" stroke-linecap="round" />
<polyline points="264.0,416.5 280.2,412.3 295.3,410.3 310.3,408.5 326.6,407.8 335.4,403.5 350.5,401.5 365.5,399.8 385.6,397.2 405.7,395.7 422.0,393.2 430.8,388.5 438.3,387.7 450.9,388.2 460.9,387.7 465.9,389.0 470.0,388.5 482.6,387.7 500.1,389.0 527.7,388.5 531.5,385.2 545.3,383.9 560.4,383.2 564.9,386.0 570.4,385.2 576.7,383.4 580.4,384.7 600.5,383.9 608.1,383.2 613.1,380.7 630.6,380.2 655.7,380.2 670.8,378.9 678.3,376.9 695.9,375.9 703.4,375.2 710.0,376.9 717.5,375.9 725.1,373.4 730.1,373.9 735.1,372.7 750.2,371.9 760.2,369.6 770.2,368.4 776.5,368.9 779.8,369.6 782.8,365.6 790.3,363.9 795.3,360.9 800.4,357.1 810.4,355.6 820.4,354.6 830.5,353.3 845.5,354.6 860.6,354.3 880.7,353.8 895.7,353.8 908.3,355.1 915.8,355.6 925.9,354.3 938.4,353.3" fill="none" stroke="#0e957f" stroke-width="0.9" stroke-linejoin="round" stroke-linecap="round" />
<path d="M36.68,437.0V437.7M38.75,437.7V438.5M40.83,438.0V438.7M42.91,438.4V439.3M44.98,438.7V439.4M47.06,439.3V439.9M49.13,439.4V440.2M53.29,439.8V440.6M55.36,440.6V441.5M59.52,440.5V441.2M61.59,441.0V441.7M63.67,441.0V441.8M65.74,441.2V442.1M67.82,441.9V442.7M69.90,442.3V443.2M71.97,442.7V443.4M74.05,443.1V443.9M76.13,443.9V444.9M78.20,444.9V446.4M80.28,446.4V447.3M84.43,445.0V445.9M86.51,445.9V446.9M88.58,446.9V447.8M90.66,447.3V448.2M92.74,447.9V448.9M94.81,448.4V449.1M98.96,449.1V449.9M105.19,448.7V449.6M107.27,448.9V449.5M109.35,449.0V450.0M111.42,449.4V450.1M113.50,450.0V450.7M115.57,450.1V451.0M130.11,448.0V448.8M136.34,448.0V448.6M138.41,448.3V449.0M142.56,448.7V449.4M144.64,449.0V449.7M146.72,449.2V449.9M148.79,449.9V450.6M150.87,450.2V451.2M152.95,450.5V451.3M155.02,450.9V451.6M159.17,451.1V451.8M163.33,451.4V452.1M179.94,446.6V447.5M184.09,447.2V447.9M188.24,446.9V447.7M192.39,446.7V447.3M194.47,446.9V447.7M196.55,447.2V447.8M198.62,447.3V448.1M200.70,447.7V448.5M202.78,447.8V448.8M204.85,448.5V449.4M206.93,448.6V449.2M211.08,448.6V449.4M213.16,449.4V450.3M217.31,449.1V450.0M219.39,449.5V450.5M223.54,449.5V450.5M225.61,450.1V450.9M227.69,450.2V451.2M231.84,450.0V453.0M233.92,453.0V454.9M236.00,454.9V456.0M238.07,456.0V458.1M240.15,458.1V463.4M242.22,463.4V487.8M248.45,485.1V486.2M250.53,486.2V487.0M252.61,486.8V488.3M258.83,487.5V488.3M260.91,487.9V488.5M275.44,485.4V486.3M277.52,485.6V486.3M279.60,485.8V486.6M283.75,486.4V487.3M285.83,486.6V487.4M287.90,486.8V487.8M289.98,487.4V488.2M292.05,487.7V488.5M296.21,487.8V488.7M298.28,488.5V489.5M300.36,488.7V489.3M302.44,488.8V489.9M304.51,489.9V490.9M306.59,490.9V491.6M308.66,491.4V492.2M310.74,492.1V493.0M312.82,492.3V493.1M314.89,493.1V493.7M319.05,493.1V493.9M321.12,493.2V493.9M323.20,493.6V494.2M335.66,485.2V485.9M350.19,481.7V482.4M354.34,481.2V482.0M356.42,481.7V482.6M358.50,482.0V482.9M360.57,482.2V482.8M362.65,482.7V483.6M366.80,482.3V483.2M368.88,482.6V483.5M370.95,483.5V485.3M373.03,485.3V486.2M379.26,485.1V486.0M381.33,485.6V486.5M385.49,486.0V487.0M391.72,485.2V486.0M395.87,484.9V485.8M397.94,485.5V486.1M400.02,485.7V486.3M402.10,486.1V486.8M404.17,486.4V487.3M406.25,486.7V487.4M408.33,487.3V488.2M424.94,484.7V485.5M427.01,485.5V486.7M429.09,486.7V487.6M437.39,482.2V483.0M439.47,482.7V483.5M441.55,483.4V484.2M445.70,483.7V484.5M447.77,484.2V485.0M451.93,484.5V485.3M454.00,484.5V485.5M456.08,485.0V485.7M460.23,485.5V486.4M462.31,485.5V486.3M466.46,485.6V486.5M476.84,482.4V483.5M478.92,483.5V484.4M480.99,484.4V485.4M483.07,485.4V486.4M487.22,486.3V487.1M489.30,486.6V487.3M491.38,486.9V487.7M493.45,487.3V488.1M495.53,487.5V488.1M497.60,487.8V488.6M499.68,487.8V488.6M501.76,488.0V488.8M512.14,486.9V487.6M518.37,485.7V486.6M520.44,485.8V486.5M522.52,486.4V487.4M532.90,485.3V486.2M534.98,485.8V486.4M539.13,485.9V486.7M543.28,485.9V486.5M545.36,485.9V486.7M547.43,486.3V487.0M551.59,486.2V487.2M553.66,486.7V487.4M557.82,486.4V487.3M559.89,486.8V487.5M561.97,486.9V487.7M564.04,487.2V487.8M566.12,487.5V488.4M570.27,487.6V488.4M578.58,486.2V487.0M580.65,487.0V487.9M582.73,487.9V489.0M584.81,489.0V489.8M586.88,489.2V490.0M588.96,489.4V490.3M593.11,489.8V490.7M595.19,490.4V491.1M611.80,485.6V486.4M613.87,485.6V486.3M615.95,485.8V486.6M620.10,485.5V486.3M624.25,485.5V486.4M626.33,485.6V486.6M630.48,485.1V485.8M638.79,485.0V485.8M649.17,484.6V485.3M659.55,484.5V485.3M661.63,485.0V485.7M663.70,485.3V486.2M665.78,485.4V486.1M667.86,485.8V486.5M672.01,486.0V486.6M674.08,486.1V486.9M676.16,486.7V487.6M680.31,486.6V487.2M688.62,484.0V484.8M690.69,484.2V485.0M692.77,485.0V485.8M694.85,485.2V486.2M696.92,485.8V486.4M699.00,485.9V486.6M717.69,481.6V482.3M721.84,481.5V482.3M734.30,479.6V480.6M748.83,478.8V479.6M750.91,479.4V480.2M752.98,479.7V480.4M755.06,480.1V481.4M757.13,481.4V482.5M759.21,482.5V483.2M761.29,482.5V483.3M763.36,483.3V484.3M765.44,483.6V484.4M767.52,483.7V484.6M769.59,484.1V485.0M771.67,484.2V485.0M782.05,474.2V475.1M784.13,475.1V476.0M786.20,476.0V476.9M788.28,476.9V478.0M790.35,478.0V479.0M792.43,479.0V480.5M794.51,480.5V481.6M796.58,481.6V483.3M798.66,483.3V484.0M800.74,483.7V484.3M802.81,484.3V485.2M804.89,484.4V485.1M809.04,484.9V485.6M813.19,485.3V486.2M815.27,485.5V486.5M825.65,484.3V487.0M827.73,487.0V489.0M829.80,489.0V489.7M831.88,489.4V490.1M833.96,489.8V490.7M836.03,490.3V491.3M838.11,490.7V491.3M840.18,490.9V491.9M844.34,491.3V492.1M860.95,488.4V489.1M863.02,488.4V489.3M867.18,488.7V489.5M869.25,489.3V490.1M873.40,489.4V490.2M877.56,489.5V490.5M885.86,487.2V488.0M887.94,488.0V488.9M890.01,488.9V489.7M896.24,489.2V490.0M912.85,485.2V486.1M914.93,485.3V485.9M925.31,483.2V484.3M927.39,484.3V486.0M929.46,486.0V486.9M931.54,486.2V486.9" stroke="#d41616" stroke-width="1.3" fill="none"/>
<path d="M34.60,436.2V437.0M51.21,439.0V440.0M57.44,440.0V440.6M96.89,448.4V449.1M101.04,448.8V449.6M103.12,448.7V449.4M117.65,449.3V450.1M119.73,449.0V449.7M121.80,448.8V449.4M123.88,448.5V449.1M125.96,447.9V448.6M128.03,447.2V448.2M132.18,447.6V448.3M134.26,447.4V448.3M140.49,447.9V448.8M157.10,450.5V451.5M161.25,450.8V451.6M165.40,451.0V451.9M167.48,451.2V451.9M169.56,450.5V451.3M171.63,449.5V450.5M173.71,449.1V450.0M182.01,446.8V447.5M186.17,446.5V447.3M190.32,446.1V447.1M209.00,448.1V448.7M215.23,448.6V449.4M221.46,448.7V449.6M229.77,449.7V450.5M246.38,484.6V485.4M254.68,487.4V488.3M256.76,487.1V488.0M262.99,487.9V488.6M267.14,485.6V486.3M269.22,485.3V486.1M271.29,485.0V486.0M273.37,485.2V485.8M281.67,485.5V486.4M294.13,487.0V487.8M316.97,492.3V493.2M325.27,493.0V493.8M333.58,484.7V485.3M337.73,484.5V485.3M339.81,484.2V485.2M341.88,484.2V485.2M346.04,482.2V482.8M348.11,481.5V482.3M352.27,481.0V481.8M364.72,482.0V482.8M375.11,484.8V485.6M377.18,484.8V485.5M383.41,485.1V486.0M387.56,485.2V486.2M389.64,484.7V485.6M393.79,484.5V485.3M410.40,486.8V487.7M412.48,486.4V487.2M414.55,485.9V486.5M416.63,485.5V486.3M418.71,484.8V485.7M420.78,484.7V485.5M422.86,484.4V485.2M431.16,486.1V486.9M443.62,482.9V483.9M449.85,483.6V484.5M458.16,484.9V485.6M464.38,485.2V485.9M468.54,485.0V485.8M470.61,484.4V485.0M474.77,482.4V483.2M485.15,485.5V486.4M503.83,487.3V488.0M505.91,487.0V487.9M507.99,487.0V487.7M510.06,486.9V487.7M514.21,486.0V486.9M516.29,485.7V486.6M524.60,486.4V487.4M526.67,486.3V487.2M528.75,485.5V486.3M530.82,485.2V485.8M537.05,485.1V486.0M541.21,485.3V486.0M549.51,485.7V486.4M555.74,485.9V486.9M568.20,487.0V487.7M572.35,487.3V488.1M574.42,486.5V487.3M576.50,485.8V486.8M591.03,489.0V489.9M597.26,489.7V490.6M599.34,489.3V490.2M601.42,488.8V489.6M603.49,488.5V489.2M605.57,487.4V488.5M607.64,486.7V487.4M618.03,485.1V485.9M622.18,484.6V485.6M628.41,484.8V485.6M632.56,484.9V485.5M634.64,484.5V485.3M636.71,484.4V485.1M640.86,484.4V485.4M642.94,484.1V485.1M645.02,484.2V485.1M647.09,484.2V485.1M651.25,484.3V484.9M653.32,484.3V484.9M655.40,483.7V484.6M657.47,483.6V484.5M669.93,485.4V486.1M678.24,486.0V487.0M686.54,483.1V484.1M701.08,485.6V486.2M703.15,485.1V485.7M705.23,484.5V485.2M707.30,483.7V484.5M709.38,483.0V483.9M711.46,482.3V483.0M713.53,481.7V482.5M715.61,480.9V481.9M719.76,480.7V481.7M723.91,481.4V482.1M725.99,480.7V481.5M728.07,480.3V481.1M730.14,479.8V480.5M732.22,479.0V480.0M736.37,479.9V480.6M738.45,479.6V480.5M740.52,478.9V479.6M742.60,478.8V479.4M744.68,478.6V479.2M746.75,478.0V478.8M773.74,483.8V484.7M775.82,483.7V484.5M806.96,484.2V484.9M811.12,484.6V485.5M817.35,484.8V485.8M819.42,484.7V485.5M821.50,484.4V485.4M823.57,484.2V484.9M842.26,490.7V491.3M846.41,490.7V491.7M848.49,490.6V491.5M850.57,490.5V491.2M852.64,489.6V490.5M854.72,489.8V490.4M856.79,488.8V489.8M865.10,488.1V488.8M871.33,488.6V489.6M875.48,488.7V489.6M879.63,488.6V489.6M881.71,487.7V488.6M883.79,487.2V488.0M892.09,488.9V489.7M894.17,488.7V489.6M898.32,488.6V489.2M900.40,487.8V488.8M902.47,487.9V488.8M904.55,487.1V487.9M906.62,486.3V487.1M908.70,485.4V486.4M910.78,485.1V485.8M917.01,484.9V485.7M919.08,484.3V485.2M921.16,483.9V485.0M923.23,483.2V483.9M933.62,485.9V486.6M935.69,485.6V486.5M937.77,485.6V486.5" stroke="#6a5cd0" stroke-width="1.3" fill="none"/>
<path d="M82.35,445.0V447.3M175.78,448.5V449.6M177.86,446.6V448.5M244.30,485.4V487.8M265.06,486.3V488.4M327.35,490.7V493.5M329.43,487.2V490.7M331.50,485.3V487.2M343.96,482.8V484.2M433.24,484.1V486.1M435.32,482.2V484.1M472.69,483.2V484.4M609.72,485.6V486.7M682.39,485.7V487.1M684.47,484.1V485.7M777.90,478.0V483.8M779.97,474.2V478.0M858.87,488.4V489.5" stroke="#cfc4f7" stroke-width="1.5" fill="none"/>
<path d="M33.8,476.25L33.8,470.8L47.5,470.8L50.0,472.0L60.0,472.5L65.0,471.2L80.0,471.2L82.5,468.8L96.2,468.2L98.8,464.2L112.5,463.2L115.0,468.8L128.8,469.2L131.2,465.8L145.0,465.8L148.8,472.5L160.0,472.5L163.8,473.2L166.2,466.2L180.0,466.2L182.0,473.8L196.2,472.5L198.8,469.5L212.5,469.5L216.2,471.8L228.8,472.5L230.0,472.5L232.5,470.8L240.0,470.8L241.5,476.2L242.0,488.8L244.5,484.5L246.2,485.5L248.8,493.8L251.2,488.0L253.8,487.0L256.2,489.5L260.0,487.5L263.8,487.5L264.2,476.2L265.0,469.5L267.5,472.5L271.2,472.5L274.5,469.2L280.0,469.5L282.5,472.0L295.0,472.5L298.8,471.2L307.5,471.2L315.0,473.2L322.5,472.5L340.0,473.0L346.2,473.0L348.8,468.8L355.0,468.8L365.0,473.2L375.0,472.5L380.0,472.5L382.5,474.5L390.0,473.2L402.5,473.8L407.5,475.5L412.5,475.0L415.0,473.8L422.5,472.0L445.0,472.0L448.8,470.0L455.0,470.0L462.5,471.2L467.5,471.8L470.0,472.0L480.0,470.0L495.0,470.0L507.5,472.5L520.0,471.8L537.5,472.0L542.5,470.8L562.5,470.8L563.2,476.2L564.5,480.0L566.2,475.5L568.0,486.2L575.0,481.2L578.8,478.8L581.2,486.2L587.5,481.2L592.5,477.0L595.0,474.5L597.5,475.0L601.2,475.0L602.5,471.2L603.8,436.2L608.0,436.2L612.5,453.8L614.5,473.2L620.0,473.2L630.0,472.5L632.0,465.0L645.0,468.2L648.8,473.2L665.0,473.8L670.0,477.0L675.0,472.5L682.5,471.2L695.0,473.8L702.5,472.5L707.5,473.8L710.0,473.8L720.0,472.0L735.0,472.0L747.5,473.2L755.0,475.0L770.0,473.2L775.0,470.8L782.5,470.8L795.0,472.5L810.0,473.2L820.0,471.8L832.5,470.0L850.0,470.8L860.0,469.5L875.0,469.5L882.5,472.5L892.5,473.2L897.5,477.0L902.5,473.8L915.0,472.0L925.0,471.2L930.0,470.0L936.2,470.8L938.8,476.2L938.8,476.25Z" fill="rgba(64,170,64,0.25)"/>
<rect x="33.1" y="3.9" width="1" height="507.3" fill="#666666"/>
<rect x="951.1" y="3.9" width="1" height="507.3" fill="#666666"/>
<rect x="990.3" y="3.9" width="1" height="507.3" fill="#666666"/>
<rect x="4.1" y="500.15000000000003" width="1015.6" height="0.9" fill="#9c9c9c"/>
<rect x="951.0" y="156.8" width="26.2" height="6.4" fill="#00b000"/>
<text x="954.2" y="161.8" font-size="4.95" fill="#eaffea" text-anchor="start" font-weight="normal" stroke="#eaffea" stroke-width="0.2">110571.3</text>
<rect x="5.9" y="261.8" width="27.7" height="6.8" fill="#00f0c6"/>
<text x="30.4" y="266.9" font-size="4.95" fill="#0a6f5c" text-anchor="end" font-weight="normal" stroke="#0a6f5c" stroke-width="0.2">365.362M</text>
<rect x="990.2" y="262.1" width="28.1" height="6.4" fill="#00f0c6"/>
<text x="994.0" y="267.1" font-size="4.95" fill="#0a6f5c" text-anchor="start" font-weight="normal" stroke="#0a6f5c" stroke-width="0.2">105.026M</text>
<rect x="951.0" y="332.4" width="23.8" height="6.4" fill="#f0504f"/>
<text x="954.4" y="337.4" font-size="4.95" fill="#ffe1e1" text-anchor="start" font-weight="normal" stroke="#ffe1e1" stroke-width="0.2">−9.637B</text>
<rect x="951.0" y="350.7" width="24.4" height="6.6" fill="#00f0c6"/>
<text x="954.4" y="355.8" font-size="4.95" fill="#0a6f5c" text-anchor="start" font-weight="normal" stroke="#0a6f5c" stroke-width="0.2">73.641M</text>
<rect x="5.9" y="351.1" width="27.7" height="6.6" fill="#00f0c6"/>
<text x="30.4" y="356.1" font-size="4.95" fill="#0a6f5c" text-anchor="end" font-weight="normal" stroke="#0a6f5c" stroke-width="0.2">123.348M</text>
<rect x="951.0" y="473.2" width="34.8" height="6.6" fill="#17601c"/>
<text x="954.2" y="478.2" font-size="4.95" fill="#e6f5e6" text-anchor="start" font-weight="normal" stroke="#e6f5e6" stroke-width="0.2">0.000000000</text>
<rect x="9.8" y="483.2" width="23.8" height="6.9" fill="#f7ee6b"/>
<text x="30.6" y="488.4" font-size="4.95" fill="#6b6414" text-anchor="end" font-weight="normal" stroke="#6b6414" stroke-width="0.2">15.865B</text>
<text x="36.6" y="12.2" font-size="5.25" fill="#e6e6e6" text-anchor="start" font-weight="normal" textLength="42.4" lengthAdjust="spacingAndGlyphs" stroke="#e6e6e6" stroke-width="0.1">BITCOIN / TETHER</text>
<text x="80.7" y="12.2" font-size="5.25" fill="#e6e6e6" text-anchor="start" font-weight="normal" textLength="36.5" lengthAdjust="spacingAndGlyphs" stroke="#e6e6e6" stroke-width="0.1">(USDⓈ-M Perp)</text>
<text x="119.7" y="12.2" font-size="5.25" fill="#e6e6e6" text-anchor="start" font-weight="normal" textLength="50.7" lengthAdjust="spacingAndGlyphs" stroke="#e6e6e6" stroke-width="0.1">&lt;hyblockcapital.com&gt;,</text>
<text x="172.5" y="12.2" font-size="5.25" fill="#e6e6e6" text-anchor="start" font-weight="normal" textLength="6.2" lengthAdjust="spacingAndGlyphs" stroke="#e6e6e6" stroke-width="0.1">1h,</text>
<text x="180.3" y="12.2" font-size="5.25" fill="#e6e6e6" text-anchor="start" font-weight="normal" textLength="17.3" lengthAdjust="spacingAndGlyphs" stroke="#e6e6e6" stroke-width="0.1">Binance</text>
<text x="200.2" y="12.2" font-size="5.25" fill="#e6e6e6" text-anchor="start" font-weight="normal" textLength="20.4" lengthAdjust="spacingAndGlyphs" stroke="#e6e6e6" stroke-width="0.1">USDⓈ-M</text>
<text x="223.4" y="12.2" font-size="5.25" fill="#e6e6e6" text-anchor="start" font-weight="normal" textLength="9.6" lengthAdjust="spacingAndGlyphs" stroke="#e6e6e6" stroke-width="0.1">Perp</text>
<text x="236.4" y="12.2" font-size="5.25" fill="#e6e6e6" text-anchor="start" font-weight="normal" textLength="3.3" lengthAdjust="spacingAndGlyphs" stroke="#e6e6e6" stroke-width="0.1">O</text>
<text x="240.1" y="12.2" font-size="5.25" fill="#0a900a" text-anchor="start" font-weight="normal" textLength="19.5" lengthAdjust="spacingAndGlyphs" stroke="#0a900a" stroke-width="0.1">110571.3</text>
<text x="262.7" y="12.2" font-size="5.25" fill="#e6e6e6" text-anchor="start" font-weight="normal" textLength="3.3" lengthAdjust="spacingAndGlyphs" stroke="#e6e6e6" stroke-width="0.1">H</text>
<text x="266.4" y="12.2" font-size="5.25" fill="#0a900a" text-anchor="start" font-weight="normal" textLength="19.1" lengthAdjust="spacingAndGlyphs" stroke="#0a900a" stroke-width="0.1">110571.3</text>
<text x="288.9" y="12.2" font-size="5.25" fill="#e6e6e6" text-anchor="start" font-weight="normal" textLength="2.2" lengthAdjust="spacingAndGlyphs" stroke="#e6e6e6" stroke-width="0.1">L</text>
<text x="291.7" y="12.2" font-size="5.25" fill="#0a900a" text-anchor="start" font-weight="normal" textLength="19.3" lengthAdjust="spacingAndGlyphs" stroke="#0a900a" stroke-width="0.1">110571.3</text>
<text x="314.3" y="12.2" font-size="5.25" fill="#e6e6e6" text-anchor="start" font-weight="normal" textLength="3.3" lengthAdjust="spacingAndGlyphs" stroke="#e6e6e6" stroke-width="0.1">C</text>
<text x="318.0" y="12.2" font-size="5.25" fill="#0a900a" text-anchor="start" font-weight="normal" textLength="18.9" lengthAdjust="spacingAndGlyphs" stroke="#0a900a" stroke-width="0.1">110571.3</text>
<text x="339.9" y="12.2" font-size="5.25" fill="#0a900a" text-anchor="start" font-weight="normal" textLength="26.4" lengthAdjust="spacingAndGlyphs" stroke="#0a900a" stroke-width="0.1">0.0 (0.00%)</text>
<text x="36.9" y="264.3" font-size="5.25" fill="#efefef" text-anchor="start" font-weight="normal" textLength="154.4" lengthAdjust="spacingAndGlyphs" stroke="#efefef" stroke-width="0.12">Volume Delta [Cumulative] (0, 100, 1k, Coinbase Spot, , No Filter, , )</text>
<text x="194.5" y="264.3" font-size="5.25" fill="#14c9a8" text-anchor="start" font-weight="normal" textLength="21.9" lengthAdjust="spacingAndGlyphs" stroke="#14c9a8" stroke-width="0.12">105.026M</text>
<text x="36.9" y="271.1" font-size="5.25" fill="#efefef" text-anchor="start" font-weight="normal" textLength="158.4" lengthAdjust="spacingAndGlyphs" stroke="#efefef" stroke-width="0.12">Volume Delta [Cumulative] (0, 10k, 10M, Coinbase Spot, , No Filter, , )</text>
<text x="198.8" y="271.1" font-size="5.25" fill="#14c9a8" text-anchor="start" font-weight="normal" textLength="23.3" lengthAdjust="spacingAndGlyphs" stroke="#14c9a8" stroke-width="0.12">365.362M</text>
<text x="36.9" y="278.1" font-size="5.25" fill="#efefef" text-anchor="start" font-weight="normal" textLength="178.2" lengthAdjust="spacingAndGlyphs" stroke="#efefef" stroke-width="0.12">Volume Delta [Cumulative] (0, 10k, 10M, Binance USDⓈ-M Perp, , No Filter, , )</text>
<text x="218.4" y="278.1" font-size="5.25" fill="#e0504f" text-anchor="start" font-weight="normal" textLength="18.8" lengthAdjust="spacingAndGlyphs" stroke="#e0504f" stroke-width="0.12">−9.637B</text>
<text x="36.9" y="352.4" font-size="5.25" fill="#efefef" text-anchor="start" font-weight="normal" textLength="150.9" lengthAdjust="spacingAndGlyphs" stroke="#efefef" stroke-width="0.12">Volume Delta [Cumulative] (0, 100, 1k, Binance Spot, , No Filter, , )</text>
<text x="191.3" y="352.4" font-size="5.25" fill="#14c9a8" text-anchor="start" font-weight="normal" textLength="19.0" lengthAdjust="spacingAndGlyphs" stroke="#14c9a8" stroke-width="0.12">73.641M</text>
<text x="36.9" y="359.4" font-size="5.25" fill="#efefef" text-anchor="start" font-weight="normal" textLength="173.4" lengthAdjust="spacingAndGlyphs" stroke="#efefef" stroke-width="0.12">Volume Delta [Cumulative] (0, 100, 1k, Binance USDⓈ-M Perp, , No Filter, , )</text>
<text x="213.9" y="359.4" font-size="5.25" fill="#14c9a8" text-anchor="start" font-weight="normal" textLength="22.1" lengthAdjust="spacingAndGlyphs" stroke="#14c9a8" stroke-width="0.12">123.348M</text>
<text x="36.9" y="436.8" font-size="5.25" fill="#efefef" text-anchor="start" font-weight="normal" textLength="153.9" lengthAdjust="spacingAndGlyphs" stroke="#efefef" stroke-width="0.12">Funding Rate [Aggregated] (, Funding Rate, No Filter, , 0.005, Sum)</text>
<text x="194.5" y="436.8" font-size="5.25" fill="#17601c" text-anchor="start" font-weight="normal" textLength="30.1" lengthAdjust="spacingAndGlyphs" stroke="#17601c" stroke-width="0.12">0.000000000</text>
<text x="36.9" y="443.8" font-size="5.25" fill="#efefef" text-anchor="start" font-weight="normal" textLength="111.1" lengthAdjust="spacingAndGlyphs" stroke="#efefef" stroke-width="0.12">Open Interest [Aggregated] (, Close, No Filter, , )</text>
<text x="151.4" y="443.8" font-size="5.25" fill="#e8dd5e" text-anchor="start" font-weight="normal" textLength="18.8" lengthAdjust="spacingAndGlyphs" stroke="#e8dd5e" stroke-width="0.12">15.865B</text>
<text x="173.2" y="443.8" font-size="5.25" fill="#e8dd5e" text-anchor="start" font-weight="normal" textLength="18.8" lengthAdjust="spacingAndGlyphs" stroke="#e8dd5e" stroke-width="0.12">15.908B</text>
<text x="195.0" y="443.8" font-size="5.25" fill="#e8dd5e" text-anchor="start" font-weight="normal" textLength="18.4" lengthAdjust="spacingAndGlyphs" stroke="#e8dd5e" stroke-width="0.12">15.844B</text>
<text x="216.4" y="443.8" font-size="5.25" fill="#e8dd5e" text-anchor="start" font-weight="normal" textLength="18.3" lengthAdjust="spacingAndGlyphs" stroke="#e8dd5e" stroke-width="0.12">15.865B</text>
<text x="49.0" y="507.9" font-size="5.4" fill="#d8dade" text-anchor="middle" font-weight="bold" >7</text>
<text x="98.9" y="507.9" font-size="5.4" fill="#d8dade" text-anchor="middle" font-weight="bold" >8</text>
<text x="148.8" y="507.9" font-size="5.4" fill="#d8dade" text-anchor="middle" font-weight="bold" >9</text>
<text x="198.7" y="507.9" font-size="5.4" fill="#d8dade" text-anchor="middle" font-weight="bold" >10</text>
<text x="248.5" y="507.9" font-size="5.4" fill="#d8dade" text-anchor="middle" font-weight="bold" >11</text>
<text x="298.4" y="507.9" font-size="5.4" fill="#d8dade" text-anchor="middle" font-weight="bold" >12</text>
<text x="348.3" y="507.9" font-size="5.4" fill="#d8dade" text-anchor="middle" font-weight="bold" >13</text>
<text x="398.2" y="507.9" font-size="5.4" fill="#d8dade" text-anchor="middle" font-weight="bold" >14</text>
<text x="448.1" y="507.9" font-size="5.4" fill="#d8dade" text-anchor="middle" font-weight="bold" >15</text>
<text x="498.0" y="507.9" font-size="5.4" fill="#d8dade" text-anchor="middle" font-weight="bold" >16</text>
<text x="547.8" y="507.9" font-size="5.4" fill="#d8dade" text-anchor="middle" font-weight="bold" >17</text>
<text x="597.7" y="507.9" font-size="5.4" fill="#d8dade" text-anchor="middle" font-weight="bold" >18</text>
<text x="647.6" y="507.9" font-size="5.4" fill="#d8dade" text-anchor="middle" font-weight="bold" >19</text>
<text x="697.5" y="507.9" font-size="5.4" fill="#d8dade" text-anchor="middle" font-weight="bold" >20</text>
<text x="747.4" y="507.9" font-size="5.4" fill="#d8dade" text-anchor="middle" font-weight="bold" >21</text>
<text x="797.3" y="507.9" font-size="5.4" fill="#d8dade" text-anchor="middle" font-weight="bold" >22</text>
<text x="847.2" y="507.9" font-size="5.4" fill="#d8dade" text-anchor="middle" font-weight="bold" >23</text>
<text x="897.0" y="507.9" font-size="5.4" fill="#d8dade" text-anchor="middle" font-weight="bold" >24</text>
<text x="946.6" y="507.9" font-size="5.4" fill="#d8dade" text-anchor="middle" font-weight="bold" >25</text>
<circle cx="18.6" cy="506" r="3.7" fill="#1c1e27"/>
<text x="18.6" y="507.6" font-size="4.5" fill="#878c9c" text-anchor="middle" font-weight="bold" >Z</text>
<circle cx="970.6" cy="506" r="3.7" fill="#1c1e27"/>
<text x="970.6" y="507.6" font-size="4.5" fill="#878c9c" text-anchor="middle" font-weight="bold" >A</text>
<circle cx="1005.0" cy="506" r="3.7" fill="#1c1e27"/>
<text x="1005.0" y="507.6" font-size="4.5" fill="#878c9c" text-anchor="middle" font-weight="bold" >B</text>
<g fill="#d6d8de">
<path d="M4.2,516.9h3.3v4.1h-1.7v-2.5h-1.6z"/>
<circle cx="8.55" cy="517.75" r="0.85"/>
<path d="M10.2,516.9h1.9l-1.75,4.1h-1.9z"/>
</g>
<text x="13.8" y="521.1" font-size="6.0" fill="#d6d8de" text-anchor="start" font-weight="normal" textLength="29.9" lengthAdjust="spacingAndGlyphs" >TradingView</text>
</svg>
</body></html>
